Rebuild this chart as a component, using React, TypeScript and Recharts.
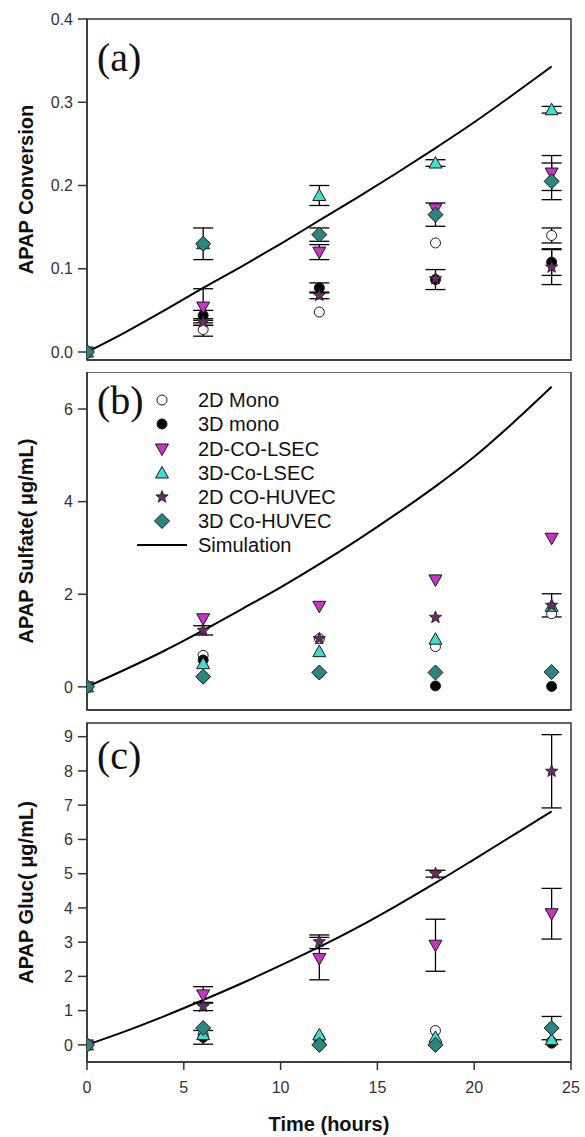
import {
  ComposedChart,
  XAxis,
  YAxis,
  Line,
  Scatter,
  ErrorBar,
  ReferenceArea,
  Customized,
} from "recharts";

const SANS = 'Arial, "Liberation Sans", sans-serif';
const SERIF = '"Times New Roman", "Liberation Serif", serif';
const AXIS = "#333333";

// sampling times (hours) and simulation grid
const hours = [0, 6, 12, 18, 24];
const simHours = [0, 2, 4, 6, 8, 10, 12, 14, 16, 18, 20, 22, 24];
const timeTicks = [0, 5, 10, 15, 20, 25];

const seriesNames = [
  "2D Mono",
  "3D mono",
  "2D-CO-LSEC",
  "3D-Co-LSEC",
  "2D CO-HUVEC",
  "3D Co-HUVEC",
];

// rows below follow the order of seriesNames
const conversion = [
  [0, 0.027, 0.048, 0.131, 0.14],
  [0, 0.044, 0.077, 0.087, 0.108],
  [0, 0.054, 0.12, 0.172, 0.215],
  [0, 0.13, 0.188, 0.227, 0.291],
  [0, 0.036, 0.068, 0.088, 0.102],
  [0, 0.13, 0.141, 0.165, 0.205],
];
const conversionErr = [
  [0, 0.008, 0, 0, 0.009],
  [0, 0.006, 0.006, 0.012, 0.016],
  [0, 0.022, 0.009, 0, 0.021],
  [0, 0, 0.012, 0.004, 0.004],
  [0, 0.004, 0.004, 0, 0.021],
  [0, 0.019, 0.008, 0.014, 0.022],
];
const conversionSim = [0, 0.024, 0.05, 0.077, 0.103, 0.13, 0.158, 0.186, 0.215, 0.245, 0.276, 0.309, 0.343];
const conversionTicks = [0, 0.1, 0.2, 0.3, 0.4];

const sulfate = [
  [0, 0.68, 1.04, 0.87, 1.58],
  [0, 0.58, 0.3, 0.02, 0.01],
  [0, 1.47, 1.74, 2.31, 3.21],
  [0, 0.5, 0.76, 1.03, 1.74],
  [0, 1.22, 1.04, 1.5, 1.76],
  [0, 0.22, 0.31, 0.31, 0.32],
];
const sulfateErr = [
  [0, 0, 0, 0, 0],
  [0, 0, 0, 0, 0],
  [0, 0, 0, 0, 0],
  [0, 0, 0, 0, 0],
  [0, 0.1, 0, 0, 0.25],
  [0, 0, 0, 0, 0],
];
const sulfateSim = [0, 0.38, 0.78, 1.22, 1.68, 2.15, 2.65, 3.18, 3.74, 4.33, 4.97, 5.7, 6.48];
const sulfateTicks = [0, 2, 4, 6];

const glucuronide = [
  [0, 0.3, 0.2, 0.42, 0.1],
  [0, 0.22, 0.05, 0.05, 0.05],
  [0, 1.46, 2.52, 2.91, 3.83],
  [0, 0.3, 0.29, 0.22, 0.15],
  [0, 1.12, 3.01, 5.0, 7.99],
  [0, 0.49, 0.0, 0.0, 0.49],
];
const glucuronideErr = [
  [0, 0, 0, 0, 0],
  [0, 0.2, 0, 0, 0],
  [0, 0.24, 0.62, 0.76, 0.74],
  [0, 0, 0, 0, 0],
  [0, 0.12, 0.2, 0.1, 1.07],
  [0, 0, 0, 0, 0.34],
];
const glucuronideSim = [0, 0.4, 0.84, 1.31, 1.8, 2.32, 2.86, 3.44, 4.07, 4.73, 5.42, 6.12, 6.82];
const glucuronideTicks = [0, 1, 2, 3, 4, 5, 6, 7, 8, 9];

const markerFills = ["#ffffff", "#000000", "#c834c8", "#40dccf", "#6a2b6c", "#2b8683"];

function starPoints(cx: number, cy: number, outer: number, inner: number) {
  const pts: string[] = [];
  for (let k = 0; k < 10; k++) {
    const r = k % 2 === 0 ? outer : inner;
    const a = -Math.PI / 2 + (k * Math.PI) / 5;
    pts.push(`${cx + r * Math.cos(a)},${cy + r * Math.sin(a)}`);
  }
  return pts.join(" ");
}

function Marker({ kind, cx, cy }: { kind: number; cx: number; cy: number }) {
  const fill = markerFills[kind];
  const stroke = "#1a1a1a";
  if (cx == null || cy == null) return null;
  switch (kind) {
    case 0:
    case 1:
      return <circle cx={cx} cy={cy} r={5} fill={fill} stroke={stroke} strokeWidth={1} />;
    case 2:
      return (
        <polygon
          points={`${cx - 6.5},${cy - 5} ${cx + 6.5},${cy - 5} ${cx},${cy + 6.5}`}
          fill={fill}
          stroke={stroke}
          strokeWidth={1}
        />
      );
    case 3:
      return (
        <polygon
          points={`${cx - 6.5},${cy + 5} ${cx + 6.5},${cy + 5} ${cx},${cy - 6.5}`}
          fill={fill}
          stroke={stroke}
          strokeWidth={1}
        />
      );
    case 4:
      return <polygon points={starPoints(cx, cy, 6.5, 2.8)} fill={fill} stroke={stroke} strokeWidth={0.8} />;
    default:
      return (
        <polygon
          points={`${cx},${cy - 7.5} ${cx + 7.5},${cy} ${cx},${cy + 7.5} ${cx - 7.5},${cy}`}
          fill={fill}
          stroke={stroke}
          strokeWidth={1}
        />
      );
  }
}

function Legend() {
  const rowY = [28, 52, 77, 101, 125, 149, 173];
  return (
    <g fontFamily={SANS} fontSize={20} fill="#111">
      {seriesNames.map((name, i) => (
        <g key={name}>
          <Marker kind={i} cx={162} cy={rowY[i]} />
          <text x={198} y={rowY[i] + 7}>
            {name}
          </text>
        </g>
      ))}
      <line x1={137} x2={187} y1={rowY[6]} y2={rowY[6]} stroke="#000" strokeWidth={2} />
      <text x={198} y={rowY[6] + 7}>
        Simulation
      </text>
    </g>
  );
}

type PanelProps = {
  top: number;
  height: number;
  marginTop: number;
  xAxisHeight: number;
  yDomain: [number, number];
  yTicks: number[];
  yFormat: (v: number) => string;
  yTitle: string;
  letter: string;
  letterY: number;
  values: number[][];
  errors: number[][];
  sim: number[];
  showTime?: boolean;
  showLegend?: boolean;
};

function Panel(p: PanelProps) {
  const plotH = p.height - p.marginTop - p.xAxisHeight;
  const simData = simHours.map((t, i) => ({ t, y: p.sim[i] }));
  const tickStyle = { fill: "#333", fontSize: 16, fontFamily: SANS };
  return (
    <div style={{ position: "absolute", left: 0, top: p.top }}>
      <ComposedChart
        width={585}
        height={p.height}
        margin={{ top: p.marginTop, right: 14, bottom: 0, left: 0 }}
      >
        <XAxis
          type="number"
          dataKey="t"
          domain={[0, 25]}
          ticks={timeTicks}
          allowDataOverflow
          height={p.xAxisHeight}
          tickSize={8}
          tickMargin={12}
          axisLine={{ stroke: AXIS, strokeWidth: 1.5 }}
          tickLine={{ stroke: AXIS, strokeWidth: 1.5 }}
          tick={p.showTime ? tickStyle : false}
        />
        <YAxis
          type="number"
          domain={p.yDomain}
          ticks={p.yTicks}
          allowDataOverflow
          width={87}
          tickSize={9}
          tickMargin={5}
          tickFormatter={p.yFormat}
          axisLine={{ stroke: AXIS, strokeWidth: 1.5 }}
          tickLine={{ stroke: AXIS, strokeWidth: 1.5 }}
          tick={tickStyle}
        />
        <ReferenceArea
          x1={0}
          x2={25}
          y1={p.yDomain[0]}
          y2={p.yDomain[1]}
          fill="none"
          stroke={AXIS}
          strokeWidth={1.5}
        />
        <Line
          data={simData}
          dataKey="y"
          type="monotone"
          stroke="#000"
          strokeWidth={2}
          dot={false}
          isAnimationActive={false}
        />
        {seriesNames.map((name, i) => (
          <Scatter
            key={name}
            name={name}
            data={hours.map((t, j) => ({ t, y: p.values[i][j], err: p.errors[i][j] }))}
            dataKey="y"
            shape={(s: any) => <Marker kind={i} cx={s.cx} cy={s.cy} />}
            isAnimationActive={false}
          >
            <ErrorBar dataKey="err" direction="y" width={10} stroke="#000" strokeWidth={1.3} />
          </Scatter>
        ))}
        <Customized
          component={() => (
            <g>
              <text x={97} y={p.letterY} fontFamily={SERIF} fontSize={40} fill="#111">
                {p.letter}
              </text>
              <text
                x={33}
                y={p.marginTop + plotH / 2}
                transform={`rotate(-90 33 ${p.marginTop + plotH / 2})`}
                textAnchor="middle"
                fontFamily={SANS}
                fontSize={20}
                fontWeight="bold"
                fill="#111"
              >
                {p.yTitle}
              </text>
              {p.showTime && (
                <text
                  x={329}
                  y={p.marginTop + plotH + 69}
                  textAnchor="middle"
                  fontFamily={SANS}
                  fontSize={20}
                  fontWeight="bold"
                  fill="#111"
                >
                  Time (hours)
                </text>
              )}
              {p.showLegend && <Legend />}
            </g>
          )}
        />
      </ComposedChart>
    </div>
  );
}

export default function App() {
  return (
    <div style={{ position: "absolute", left: 0, top: 0, width: 585, height: 1137, background: "#fff" }}>
      <Panel
        top={0}
        height={372}
        marginTop={19}
        xAxisHeight={12}
        yDomain={[-0.0096, 0.4]}
        yTicks={conversionTicks}
        yFormat={(v) => v.toFixed(1)}
        yTitle="APAP Conversion"
        letter="(a)"
        letterY={71}
        values={conversion}
        errors={conversionErr}
        sim={conversionSim}
      />
      <Panel
        top={372}
        height={350}
        marginTop={0}
        xAxisHeight={12}
        yDomain={[-0.5, 6.8]}
        yTicks={sulfateTicks}
        yFormat={(v) => String(v)}
        yTitle="APAP Sulfate( μg/mL)"
        letter="(b)"
        letterY={42}
        values={sulfate}
        errors={sulfateErr}
        sim={sulfateSim}
        showLegend
      />
      <Panel
        top={722}
        height={415}
        marginTop={1}
        xAxisHeight={75}
        yDomain={[-0.5, 9.4]}
        yTicks={glucuronideTicks}
        yFormat={(v) => String(v)}
        yTitle="APAP Gluc( μg/mL)"
        letter="(c)"
        letterY={47}
        values={glucuronide}
        errors={glucuronideErr}
        sim={glucuronideSim}
        showTime
      />
    </div>
  );
}
